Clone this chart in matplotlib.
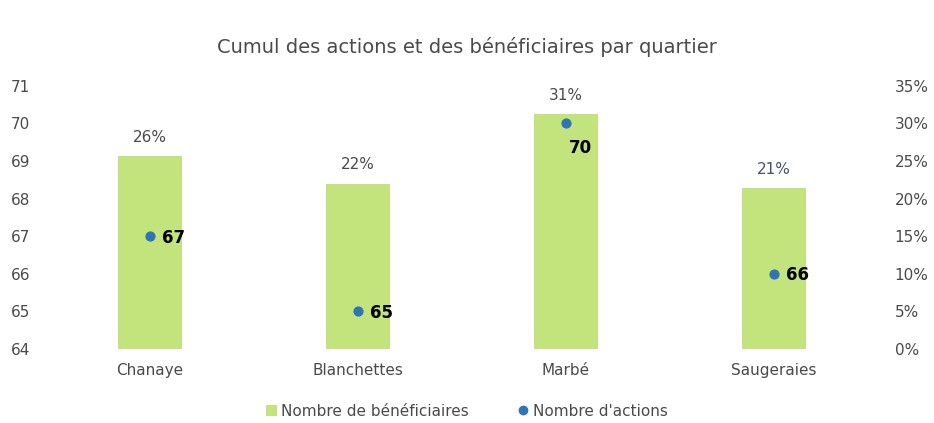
import matplotlib
matplotlib.use("Agg")
import matplotlib.pyplot as plt
from matplotlib.lines import Line2D
from matplotlib.patches import Patch

categories = ["Chanaye", "Blanchettes", "Marbé", "Saugeraies"]
beneficiaires_pct = [0.257, 0.22, 0.313, 0.214]
actions = [67, 65, 70, 66]
left_ticks = [64, 65, 66, 67, 68, 69, 70, 71]
right_ticks = [0, 0.05, 0.10, 0.15, 0.20, 0.25, 0.30, 0.35]

plt.rcParams['font.family'] = ['DejaVu Sans']
text_col = '#4a4a4a'
bar_col = '#c3e37c'
pt_col = '#2e75b6'

fig = plt.figure(figsize=(9.34, 4.23), dpi=100)
ax = fig.add_axes([0.049, 0.175, 0.891, 0.622])
ax2 = ax.twinx()

x = list(range(len(categories)))
ax2.bar(x, beneficiaires_pct, width=0.31, color=bar_col, zorder=1)
ax2.set_ylim(0, 0.35)
ax2.set_yticks(right_ticks)
ax2.set_yticklabels([f"{int(round(t*100))}%" for t in right_ticks])

for i, v in enumerate(beneficiaires_pct):
    col = '#44546a' if i == 3 else text_col
    ax2.annotate(f"{round(v*100):.0f}%", (i, v), xytext=(0, 8), textcoords='offset points',
                 ha='center', va='bottom', fontsize=11, color=col)

ax.set_zorder(ax2.get_zorder() + 1)
ax.patch.set_visible(False)
ax.scatter(x, actions, s=40, color=pt_col, zorder=3)
ax.set_ylim(64, 71)
ax.set_yticks(left_ticks)
ax.set_xlim(-0.5, len(categories) - 0.5)
ax.set_xticks(x)
ax.set_xticklabels(categories)
for i, v in enumerate(actions):
    if v == max(actions):
        ax.annotate(str(v), (i, v), xytext=(2, -18), textcoords='offset points',
                    ha='left', va='center', fontsize=12, fontweight='bold', color='black')
    else:
        ax.annotate(str(v), (i, v), xytext=(9, -1), textcoords='offset points',
                    ha='left', va='center', fontsize=12, fontweight='bold', color='black')

for a in (ax, ax2):
    for s in a.spines.values():
        s.set_visible(False)
    a.tick_params(length=0, labelsize=11, labelcolor=text_col)
ax.tick_params(axis='x', pad=10)
ax.tick_params(axis='y', pad=11)
ax2.tick_params(axis='y', pad=12)

fig.text(0.5, 0.888, "Cumul des actions et des bénéficiaires par quartier",
         ha='center', va='center', fontsize=14, color=text_col)

handles = [Patch(facecolor=bar_col, label="Nombre de bénéficiaires"),
           Line2D([], [], marker='o', linestyle='', color=pt_col, markersize=6, label="Nombre d'actions")]
leg = fig.legend(handles=handles, loc='center', bbox_to_anchor=(0.5, 0.028), ncol=2, frameon=False,
                 fontsize=11, handlelength=0.7, handletextpad=0.3, columnspacing=3.2)
for t in leg.get_texts():
    t.set_color(text_col)

fig.savefig("out.png", dpi=100)
